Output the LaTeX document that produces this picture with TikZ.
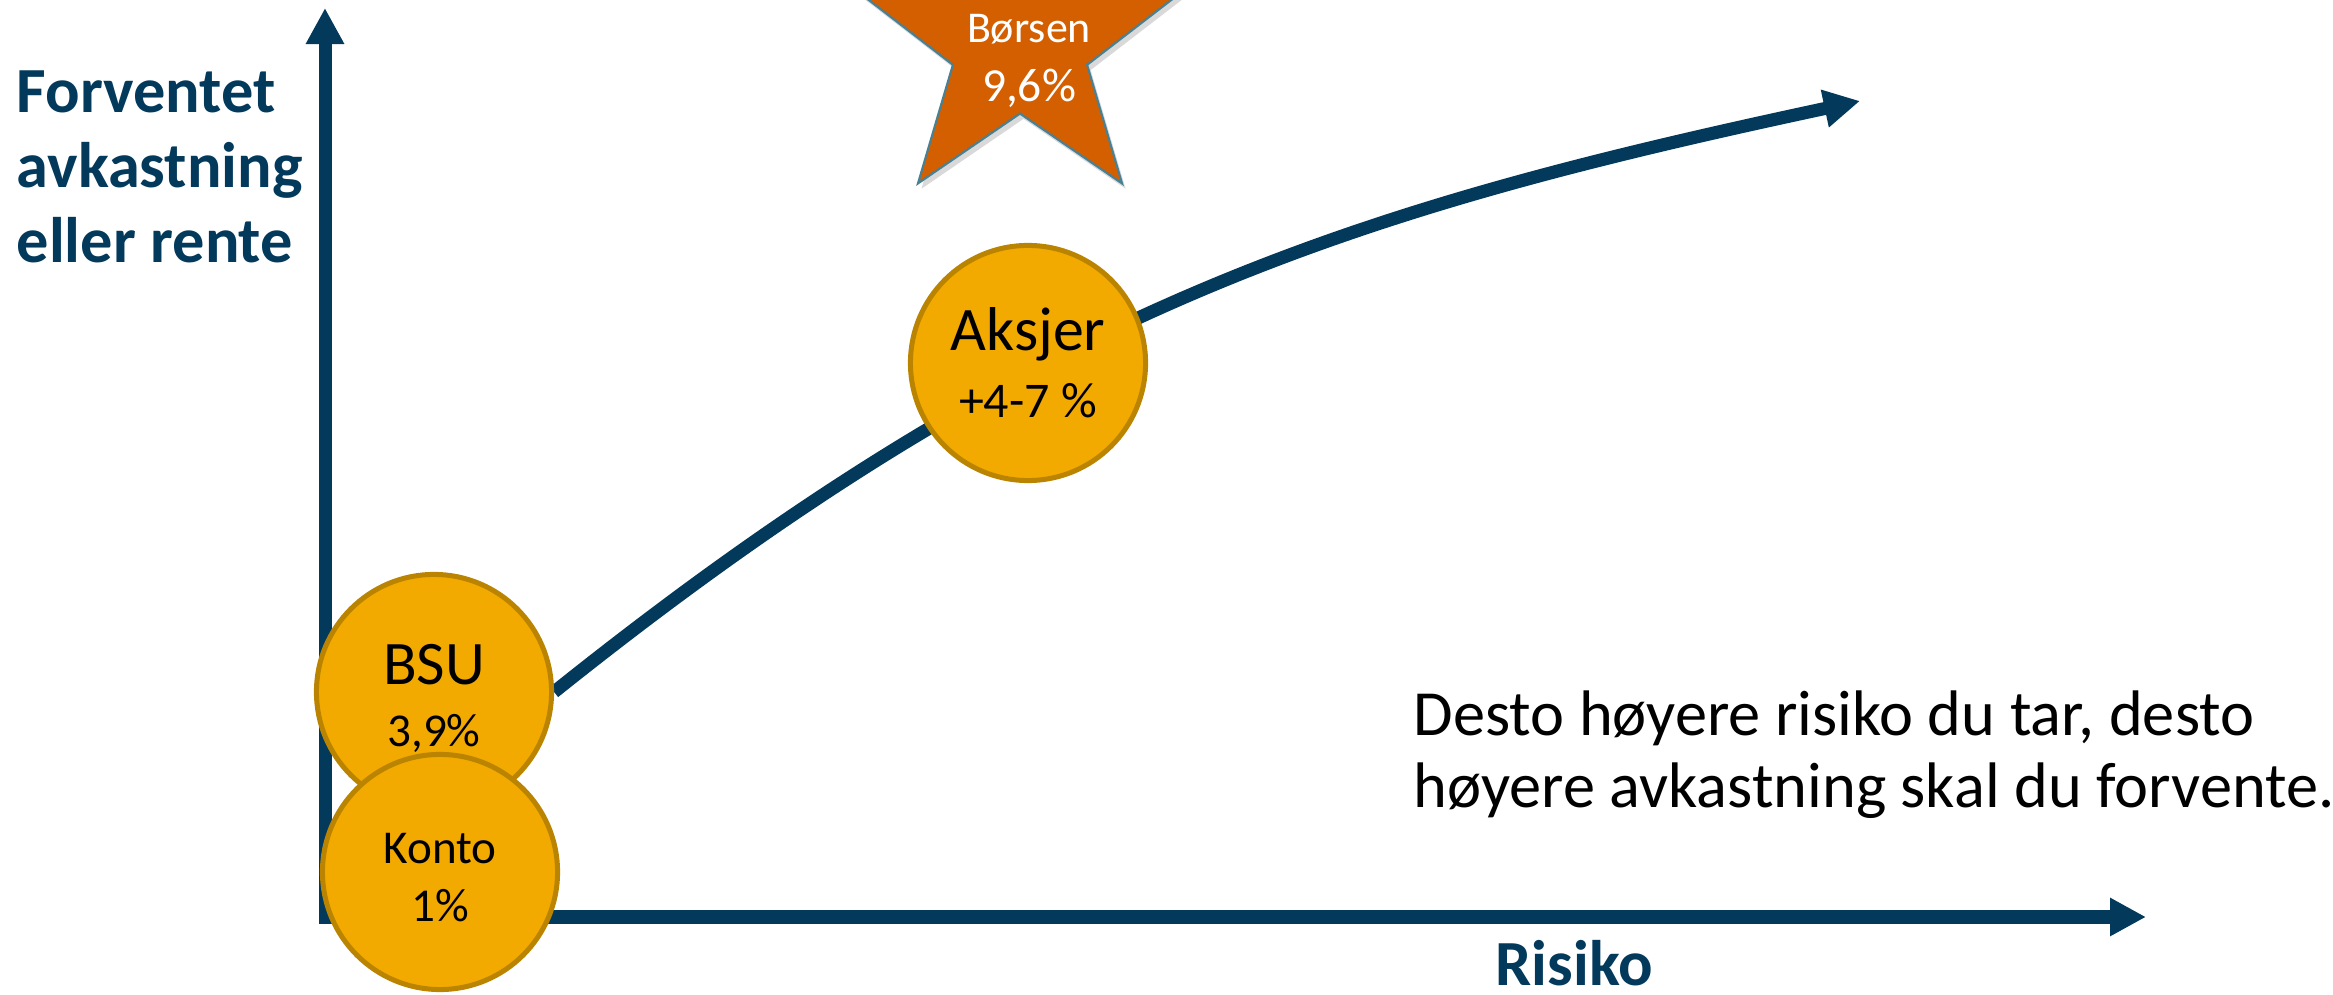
\documentclass[tikz,border=0pt]{standalone}
\usepackage{fontspec}
\setmainfont{Carlito}
\usepackage{tikz}
\usetikzlibrary{arrows.meta,shapes.geometric,backgrounds,shadows}
\definecolor{axisblue}{RGB}{3,58,92}
\definecolor{coinfill}{RGB}{242,169,0}
\definecolor{coinedge}{RGB}{186,132,0}
\definecolor{starfill}{RGB}{211,95,0}
\definecolor{staredge}{RGB}{72,128,148}

\begin{document}
\begin{tikzpicture}[x=0.01cm,y=-0.01cm,>={Triangle[length=0.36cm,width=0.36cm]}]
\useasboundingbox (0,0) rectangle (2333,995);
\clip (0,0) rectangle (2333,995);
\tikzstyle{axis}=[draw=axisblue,line width=0.13cm,->]
\tikzstyle{coin}=[circle,fill=coinfill,draw=coinedge,line width=0.05cm,minimum size=2.35cm,inner sep=0pt,align=center,text=black]
\tikzstyle{axislabel}=[text=axisblue,font=\fontsize{18.3}{21.3}\selectfont\bfseries,inner sep=0pt]

\coordinate (origin) at (325,917);
\coordinate (ytop) at (325,8);
\coordinate (xend) at (2146,917);
\coordinate (trend) at (1860,101);

% the star (cut off by the top edge)
\node[star,star points=5,star point ratio=2.46,minimum size=3.47cm,inner sep=0pt,fill=starfill,draw=staredge,line width=0.6pt,
      drop shadow={opacity=0.3,shadow xshift=1pt,shadow yshift=-1.5pt}] (boersen) at (1020,43) {};
\node[text=white,align=center,inner sep=0pt,font=\fontsize{12.5}{17}\selectfont] (boersentxt) at (1029,61) {Børsen\\\fontsize{13.5}{17}\selectfont 9,6\%};

\node[coin,font=\fontsize{17.6}{19.1}\selectfont] (aksjer) at (1028,363) {Aksjer\\\fontsize{14.2}{19.1}\selectfont +4-7 \%};
\node[coin,font=\fontsize{17.6}{17.6}\selectfont] (bsu) at (434,692) {\rule{0pt}{15pt}BSU\\\fontsize{13.4}{17.6}\selectfont 3,9\%};
\node[coin,font=\fontsize{13.4}{16.5}\selectfont] (konto) at (440,872) {\rule{0pt}{12pt}Konto\\1\%};

\node[axislabel,anchor=north west,align=left] (ylabel) at (16,70) {Forventet\\avkastning\\eller rente};
\node[axislabel,anchor=base] (risiko) at (1574,986) {Risiko};
\node[anchor=north west,align=left,inner sep=0pt,font=\fontsize{18.3}{20.5}\selectfont] (note) at (1413,690)
  {Desto høyere risiko du tar, desto\\høyere avkastning skal du forvente.};

\begin{scope}[on background layer]
\draw[axis,line cap=rect] (origin) -- (ytop);
\draw[axis,line cap=rect] (origin) -- (xend);
\draw[axis] (bsu.east) .. controls (1035,307) and (1351,210) .. (trend);
\end{scope}
\end{tikzpicture}
\end{document}
